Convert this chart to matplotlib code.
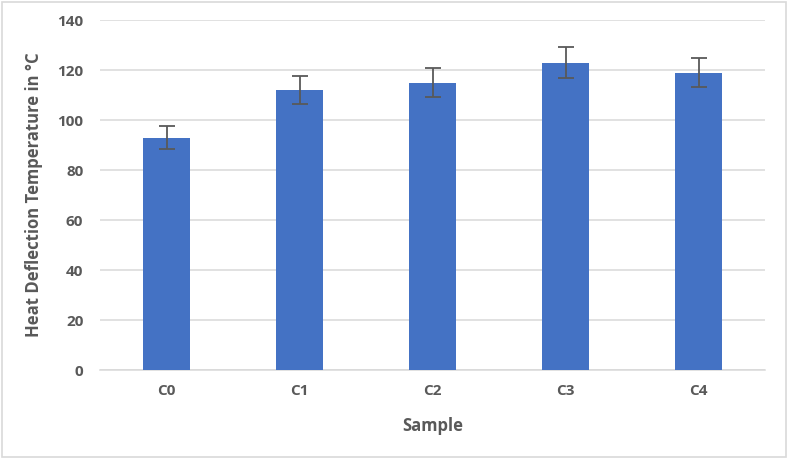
import matplotlib.pyplot as plt
from matplotlib.patches import Rectangle

# Data
samples = ['C0', 'C1', 'C2', 'C3', 'C4']
hdt = [93, 112, 115, 123, 119]
hdt_err = [4.7, 5.7, 5.8, 6.1, 5.9]
y_ticks = [0, 20, 40, 60, 80, 100, 120, 140]

text_color = '#595959'
grid_color = '#D9D9D9'

fig = plt.figure(figsize=(7.88, 4.58), dpi=100)
ax = fig.add_axes([100 / 788, 1 - 370 / 458, 665 / 788, 350 / 458])

x = range(len(samples))
ax.bar(x, hdt, width=0.35, color='#4472C4', zorder=3)
ax.errorbar(x, hdt, yerr=hdt_err, fmt='none', ecolor='#595959',
            elinewidth=1.3, capsize=6, capthick=1.3, zorder=4)

ax.set_xlim(-0.5, len(samples) - 0.5)
ax.set_ylim(0, 140)
ax.set_yticks(y_ticks)
ax.set_xticks(list(x))
ax.set_xticklabels(samples)
ax.yaxis.grid(True, color=grid_color, linewidth=1.1, zorder=0)
ax.set_axisbelow(True)

for s in ['top', 'right', 'left']:
    ax.spines[s].set_visible(False)
ax.spines['bottom'].set_color(grid_color)
ax.spines['bottom'].set_linewidth(1.1)
ax.tick_params(length=0, labelsize=11, labelcolor=text_color, pad=12)
ax.tick_params(axis='x', pad=10)
for lbl in ax.get_xticklabels() + ax.get_yticklabels():
    lbl.set_fontweight('bold')
    lbl.set_family('Open Sans')

ax.set_xlabel('Sample', fontsize=12, fontweight='bold', color=text_color,
              family='Open Sans', labelpad=14)
ax.set_ylabel('Heat Deflection Temperature in °C', fontsize=12, fontweight='bold',
              color=text_color, family='Open Sans', labelpad=10)

# light border round the chart
fig.patches.append(Rectangle((0.002, 0.003), 0.995, 0.993, transform=fig.transFigure,
                             fill=False, edgecolor=grid_color, linewidth=1.2))

fig.savefig('out.png', dpi=100)
